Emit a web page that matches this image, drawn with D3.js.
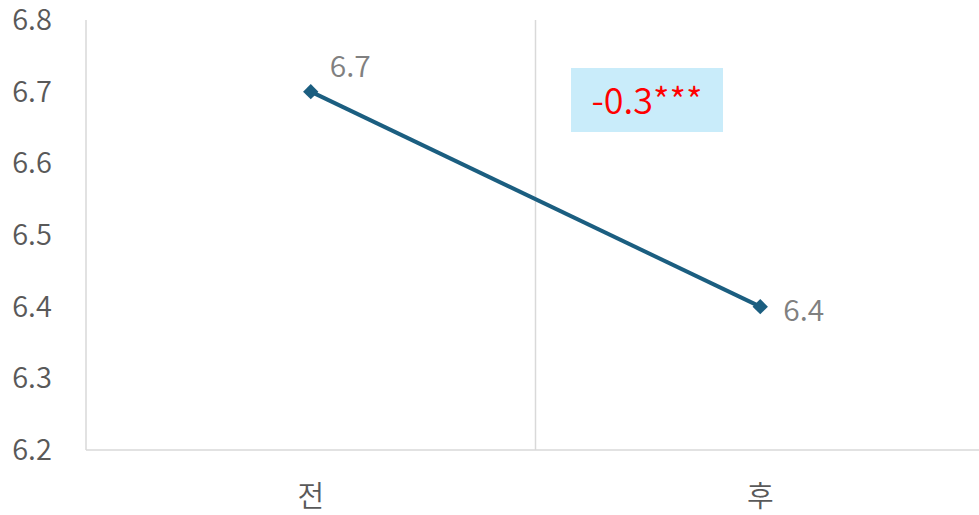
<!DOCTYPE html>
<html><head><meta charset="utf-8">
<script src="https://cdn.jsdelivr.net/npm/d3@7"></script>
<style>body{margin:0;background:#fff}svg{display:block}text{font-family:"Noto Sans CJK KR","Noto Sans",sans-serif;font-weight:350}</style>
</head><body>
<svg id="c" width="979" height="515"></svg>
<script>
const categories = ["전", "후"];
const values = [6.7, 6.4];
const yTicks = [6.2, 6.3, 6.4, 6.5, 6.6, 6.7, 6.8];
const annotation = "-0.3***";

const svg = d3.select("#c");
const m = {l: 86, r: 985, t: 20, b: 450};
const x = d3.scaleBand().domain(categories).range([m.l, m.r]).paddingInner(0).paddingOuter(0);
const y = d3.scaleLinear().domain([6.2, 6.8]).range([m.b, m.t]);
const grid = "#d9d9d9";

// vertical category boundary lines
svg.append("g").selectAll("line").data(categories.slice(1)).join("line")
  .attr("x1", d => x(d)).attr("x2", d => x(d)).attr("y1", m.t).attr("y2", m.b)
  .attr("stroke", grid).attr("stroke-width", 1.5);
// left axis line
svg.append("line").attr("x1", m.l).attr("x2", m.l).attr("y1", m.t).attr("y2", m.b)
  .attr("stroke", grid).attr("stroke-width", 1.5);
// bottom axis line
svg.append("line").attr("x1", m.l).attr("x2", m.r).attr("y1", m.b).attr("y2", m.b)
  .attr("stroke", grid).attr("stroke-width", 1.5);

// y tick labels
svg.append("g").selectAll("text").data(yTicks).join("text")
  .attr("x", 32).attr("y", d => y(d)).attr("dy", "0.35em")
  .attr("text-anchor", "middle").attr("font-size", 29).attr("fill", "#595959")
  .text(d => d.toFixed(1));

// x labels
svg.append("g").selectAll("text").data(categories).join("text")
  .attr("x", d => x(d) + x.bandwidth() / 2).attr("y", 497).attr("dy", "0.35em")
  .attr("text-anchor", "middle").attr("font-size", 29).attr("fill", "#595959")
  .text(d => d);

const cx = (d, i) => x(categories[i]) + x.bandwidth() / 2;
const line = d3.line().x((d, i) => cx(d, i)).y(d => y(d));
svg.append("path").datum(values).attr("d", line)
  .attr("fill", "none").attr("stroke", "#1b5e80").attr("stroke-width", 4);

svg.append("g").selectAll("path").data(values).join("path")
  .attr("d", d3.symbol().type(d3.symbolDiamond2).size(150))
  .attr("transform", (d, i) => `translate(${cx(d, i)},${y(d)})`)
  .attr("fill", "#1b5e80");

// data labels
svg.append("g").selectAll("text").data(values).join("text")
  .attr("x", (d, i) => cx(d, i) + (i === 0 ? 19 : 23))
  .attr("y", (d, i) => i === 0 ? y(d) - 25 : y(d) + 4)
  .attr("dy", "0.35em").attr("font-size", 30).attr("fill", "#808080")
  .text(d => d.toFixed(1));

// annotation box
const ax = 571, ay = 68;
svg.append("rect").attr("x", ax).attr("y", ay).attr("width", 152).attr("height", 64).attr("fill", "#c9ecfa");
svg.append("text").attr("x", ax + 76).attr("y", ay + 33).attr("dy", "0.35em")
  .attr("text-anchor", "middle").attr("font-size", 36).attr("fill", "#ff0000").text(annotation);
</script>
</body></html>
